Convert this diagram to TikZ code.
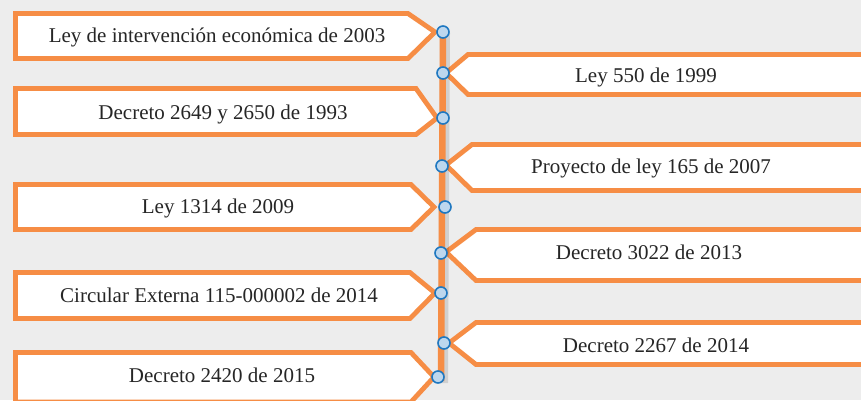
\documentclass[tikz,border=0pt]{standalone}
\usepackage{fontspec}
\setmainfont{Liberation Serif}
\usetikzlibrary{positioning}
\definecolor{tlorange}{HTML}{F68D45}
\definecolor{tlblue}{HTML}{1F78C1}
\definecolor{tldot}{HTML}{BDD7EE}
\definecolor{tlbg}{HTML}{EDEDED}
\definecolor{tltext}{HTML}{262626}
\tikzset{
  evbox/.style={draw=tlorange,line width=4.8pt,fill=white,line join=miter},
  evtext/.style={font=\fontsize{21}{25}\selectfont,text=tltext,inner sep=0pt,anchor=base},
  evdot/.style={circle,draw=tlblue,fill=tldot,line width=1.6pt,inner sep=0pt,minimum size=12pt},
}
\begin{document}
\begin{tikzpicture}[x=1pt,y=-1pt]
\useasboundingbox (0,0) rectangle (861,400);
\fill[tlbg] (0,0) rectangle (861,400);
\clip (0,0) rectangle (861,400);
% left side: top/bottom/shoulder/tip/tip y/text x/baseline/text
\foreach \t/\b/\s/\p/\m/\tx/\bl/\txt [count=\i] in {
  13.5/58.5/408/435/32/217/42/Ley de intervención económica de 2003,
  88.5/134.5/416/437/118/223/119/Decreto 2649 y 2650 de 1993,
  184.5/229.5/411/434/207/218/213/Ley 1314 de 2009,
  272.5/318.5/410/435/293/219/302/Circular Externa 115-000002 de 2014,
  352.5/402/411/434/377/222/382/Decreto 2420 de 2015}
{
  \draw[evbox] (15.5,\t) -- (\s,\t) -- (\p,\m) -- (\s,\b) -- (15.5,\b) -- cycle;
  \node[evtext] (l\i) at (\tx,\bl) {\txt};
}
% right side
\foreach \t/\b/\s/\p/\m/\tx/\bl/\txt [count=\i] in {
  54.5/94.5/468/446/73/646/82/Ley 550 de 1999,
  144.5/190.5/472/446/165/651/173/Proyecto de ley 165 de 2007,
  229.5/280.5/476/446/252/649/259/Decreto 3022 de 2013,
  322.5/364.5/476/449/343/656/352/Decreto 2267 de 2014}
{
  \draw[evbox] (880,\t) -- (\s,\t) -- (\p,\m) -- (\s,\b) -- (880,\b) -- cycle;
  \node[evtext] (r\i) at (\tx,\bl) {\txt};
}
% timeline
\coordinate (tltop) at (443,31);
\coordinate (tlbot) at (441,381);
\draw[line width=10pt,black,opacity=0.12] ([shift={(2,2)}]tltop) -- ([shift={(2,2)}]tlbot);
\draw[line width=6.5pt,tlorange] (tltop) -- (tlbot);
\foreach \x/\y [count=\i] in {443/32,443/73,443/118,442/166,445/207,441/253,441/293,444/343,438/377}
  {\node[evdot] (d\i) at (\x,\y) {};}
\end{tikzpicture}
\end{document}
